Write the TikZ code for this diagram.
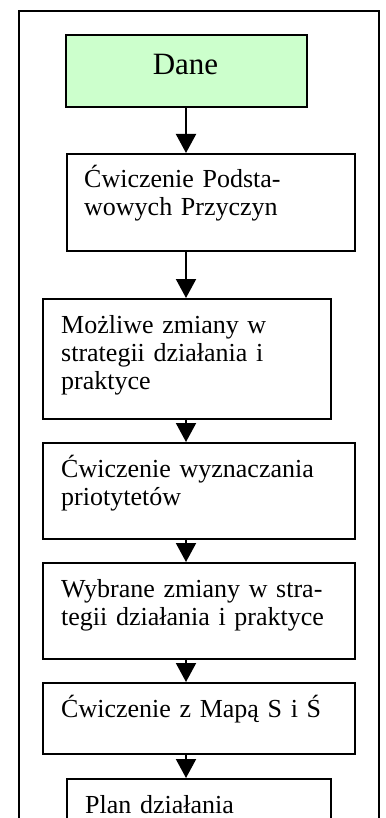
\documentclass[tikz,border=0pt]{standalone}
\usepackage{fontspec}
\setmainfont{Liberation Serif}
\usetikzlibrary{arrows.meta}
\definecolor{startgreen}{HTML}{CCFFCC}
\tikzset{
  boxframe/.style={draw, line width=2pt, rectangle, inner sep=0pt, anchor=north west},
  steptext/.style={anchor=base west, inner sep=0pt, text width=320pt, align=left,
    font=\fontsize{26}{28}\selectfont},
  flowarrow/.style={line width=2pt, -{Triangle[width=20pt,length=19pt]}},
}
\begin{document}
\begin{tikzpicture}[x=1pt,y=-1pt]
\useasboundingbox (0,0) rectangle (385,818);
\clip (0,0) rectangle (385,818);
\fill[white] (0,0) rectangle (385,818);

% outer frame
\node[boxframe, minimum width=360pt, minimum height=830pt] (frame) at (18,10) {};

% boxes
\node[boxframe, fill=startgreen, minimum width=241pt, minimum height=72pt] (b1) at (65,34) {};
\node[boxframe, minimum width=288pt, minimum height=97pt] (b2) at (66,153) {};
\node[boxframe, minimum width=288pt, minimum height=120pt] (b3) at (42,298) {};
\node[boxframe, minimum width=312pt, minimum height=96pt] (b4) at (42,442) {};
\node[boxframe, minimum width=312pt, minimum height=96pt] (b5) at (42,562) {};
\node[boxframe, minimum width=312pt, minimum height=71pt] (b6) at (42,682) {};
\node[boxframe, minimum width=264pt, minimum height=72pt] (b7) at (66,778) {};

% texts
\node[anchor=base, inner sep=0pt, font=\fontsize{31}{36}\selectfont] (t1) at (185.5,75) {Dane};
\node[steptext] (t2) at (84,188) {Ćwiczenie Podsta-\\wowych Przyczyn};
\node[steptext] (t3) at (61,333) {Możliwe zmiany w\\strategii działania i\\praktyce};
\node[steptext] (t4) at (61,477) {Ćwiczenie wyznaczania\\priotytetów};
\node[steptext] (t5) at (61,597) {Wybrane zmiany w stra-\\tegii działania i praktyce};
\node[steptext] (t6) at (61,717) {Ćwiczenie z Mapą S i Ś};
\node[steptext] (t7) at (85,813) {Plan działania};

% connectors
\coordinate (ax) at (186,0);
\draw[flowarrow] (ax |- b1.south) -- (ax |- b2.north);
\draw[flowarrow] (ax |- b2.south) -- (ax |- b3.north);
\draw[flowarrow] (ax |- b3.south) -- (ax |- b4.north);
\draw[flowarrow] (ax |- b4.south) -- (ax |- b5.north);
\draw[flowarrow] (ax |- b5.south) -- (ax |- b6.north);
\draw[flowarrow] (ax |- b6.south) -- (ax |- b7.north);
\end{tikzpicture}
\end{document}
